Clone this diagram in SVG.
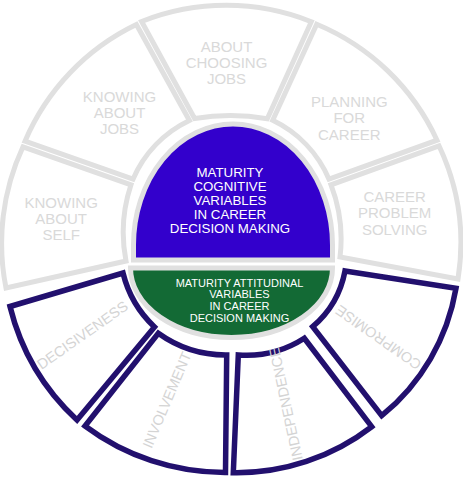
<svg xmlns="http://www.w3.org/2000/svg" width="463" height="478" viewBox="0 0 463 478">
<style>
.gs{fill:#ffffff;stroke:#e0e0e0;stroke-width:5;stroke-linejoin:miter}
.ns{fill:#ffffff;stroke:#22106e;stroke-width:5.5;stroke-linejoin:miter}
.lbl{font-family:"Liberation Sans",Arial,sans-serif;font-size:15px;fill:#d9d9d9;text-anchor:middle}
.rl{font-family:"Liberation Sans",Arial,sans-serif;font-size:14.5px;fill:#d4d4d4;text-anchor:middle}
.ct{font-family:"Liberation Sans",Arial,sans-serif;fill:#ffffff;text-anchor:middle}
</style>
<rect width="463" height="478" fill="#ffffff"/>
<g id="connectors"/>
<g id="seg-self">
<path class="gs" d="M23,146.8 L131,184.8 A150,150 0 0,0 126,261 L6,288 A229,229 0 0,1 23,146.8 Z"/>
<text class="lbl"><tspan x="61.2" y="208">KNOWING</tspan><tspan x="61.2" y="224">ABOUT</tspan><tspan x="61.2" y="240">SELF</tspan></text>
</g>
<g id="seg-jobs">
<path class="gs" d="M25,141.2 L133,179.2 A116,116 0 0,1 189.4,120.5 L136.4,24.5 A229,229 0 0,0 25,141.2 Z"/>
<text class="lbl"><tspan x="119.5" y="102">KNOWING</tspan><tspan x="119.5" y="117.8">ABOUT</tspan><tspan x="119.5" y="133.6">JOBS</tspan></text>
</g>
<g id="seg-choosing">
<path class="gs" d="M194.6,118.5 A220,220 0 0,1 267.3,118.7 L311.3,21.7 A229,229 0 0,0 141.6,21.5 Z"/>
<text class="lbl"><tspan x="226.5" y="52">ABOUT</tspan><tspan x="226.5" y="67.8">CHOOSING</tspan><tspan x="226.5" y="83.6">JOBS</tspan></text>
</g>
<g id="seg-planning">
<path class="gs" d="M272.7,120.3 A116,116 0 0,1 329,179.2 L437,140.2 A229,229 0 0,0 316.7,24.3 Z"/>
<text class="lbl"><tspan x="349.3" y="107">PLANNING</tspan><tspan x="349.3" y="123.3">FOR</tspan><tspan x="349.3" y="139.6">CAREER</tspan></text>
</g>
<g id="seg-problem">
<path class="gs" d="M331,184.8 A150,150 0 0,1 340,257 L458,279 A229,229 0 0,0 439,145.8 Z"/>
<text class="lbl"><tspan x="394.7" y="202">CAREER</tspan><tspan x="394.7" y="218.3">PROBLEM</tspan><tspan x="394.7" y="234.6">SOLVING</tspan></text>
</g>
<g id="seg-decisiveness">
<path class="ns" d="M10,306.5 L123,273 A110.5,110.5 0 0,0 154.5,327 L77,420 A230,230 0 0,1 10,306.5 Z"/>
<text class="rl" transform="translate(82.3,335) rotate(-35)" x="0" y="5.2">DECISIVENESS</text>
</g>
<g id="seg-involvement">
<path class="ns" d="M158.3,333.3 A115.7,115.7 0 0,0 226.7,355 L225.5,472.5 A233.5,233.5 0 0,1 85,426 Z"/>
<text class="rl" transform="translate(166.7,400) rotate(-67)" x="0" y="5.2">INVOLVEMENT</text>
</g>
<g id="seg-independence">
<path class="ns" d="M238.3,355 A107,107 0 0,0 304.3,338.3 L371.7,426.7 A221,221 0 0,1 233.3,472.7 Z"/>
<text class="rl" transform="translate(285.7,404) rotate(-102)" x="0" y="5.2">INDEPENDENCE</text>
</g>
<g id="seg-compromise">
<path class="ns" d="M345,271 L456,288.3 A209,209 0 0,1 381.7,415.7 L312.7,326.7 A96.5,96.5 0 0,0 345,271 Z"/>
<text class="rl" transform="translate(378.3,337.7) rotate(-145)" x="0" y="5.2">COMPROMISE</text>
</g>
<g id="cognitive">
<path d="M133.5,260 L133.5,245 A99.5,121 0 0,1 332.5,245 L332.5,260 Z" fill="#3300cc" stroke="#e0e0e0" stroke-width="5"/>
<text class="ct" font-size="13.3"><tspan x="230" y="176.5">MATURITY</tspan><tspan x="230" y="190.7">COGNITIVE</tspan><tspan x="230" y="204.9">VARIABLES</tspan><tspan x="230" y="219.1">IN CAREER</tspan><tspan x="230" y="233.3">DECISION MAKING</tspan></text>
</g>
<g id="attitudinal">
<path d="M130.5,268 L332.5,268 A101,69.5 0 0,1 130.5,268 Z" fill="#136a35" stroke="#e0e0e0" stroke-width="5"/>
<text class="ct" font-size="11"><tspan x="239.5" y="286.6">MATURITY ATTITUDINAL</tspan><tspan x="239.5" y="298.3">VARIABLES</tspan><tspan x="239.5" y="310">IN CAREER</tspan><tspan x="239.5" y="321.7">DECISION MAKING</tspan></text>
</g>
</svg>
